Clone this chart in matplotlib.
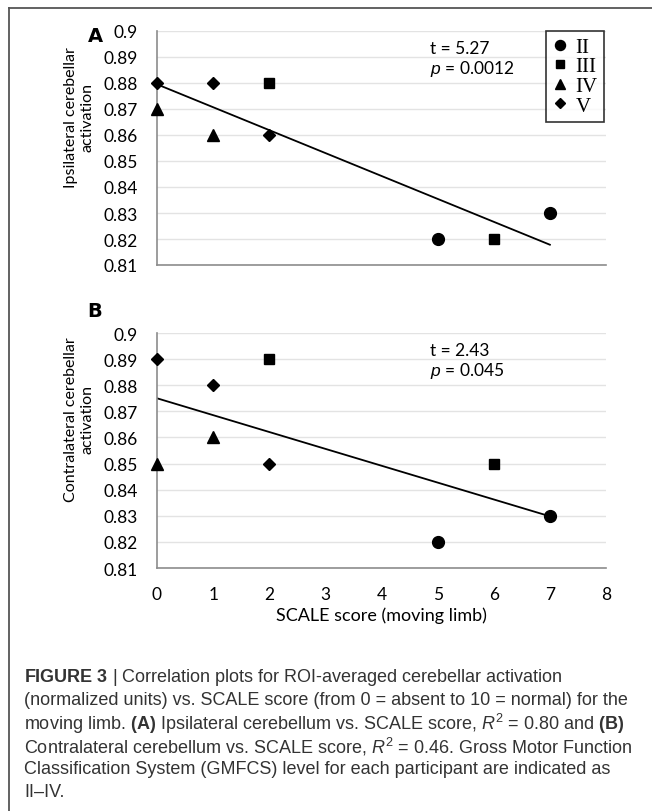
import matplotlib.pyplot as plt
from matplotlib.lines import Line2D

# GMFCS groups and markers
levels = ["II", "III", "IV", "V"]
markers = {"II": "o", "III": "s", "IV": "^", "V": "D"}
msizes = {"II": 8.5, "III": 7.5, "IV": 9, "V": 6.5}

# panel A: ipsilateral activation vs SCALE score
ipsi_x = {"II": [5, 7], "III": [2, 6], "IV": [0, 1], "V": [0, 1, 2]}
ipsi_y = {"II": [0.82, 0.83], "III": [0.88, 0.82], "IV": [0.87, 0.86],
          "V": [0.88, 0.88, 0.86]}
ipsi_fit_x = [0, 7]
ipsi_fit_y = [0.8795, 0.8178]

# panel B: contralateral activation vs SCALE score
contra_x = {"II": [5, 7], "III": [2, 6], "IV": [0, 1], "V": [0, 1, 2]}
contra_y = {"II": [0.82, 0.83], "III": [0.89, 0.85], "IV": [0.85, 0.86],
            "V": [0.89, 0.88, 0.85]}
contra_fit_x = [0, 7]
contra_fit_y = [0.875, 0.8298]

yticks = [0.81, 0.82, 0.83, 0.84, 0.85, 0.86, 0.87, 0.88, 0.89, 0.9]
ytick_labels = ["0.81", "0.82", "0.83", "0.84", "0.85", "0.86", "0.87", "0.88", "0.89", "0.9"]
xticks = [0, 1, 2, 3, 4, 5, 6, 7, 8]

W, H = 652, 812
plt.rcParams["mathtext.fontset"] = "custom"
plt.rcParams["mathtext.rm"] = "Liberation Sans"
plt.rcParams["mathtext.it"] = "Liberation Sans:italic"
plt.rcParams["mathtext.bf"] = "Liberation Sans:bold"

fig = plt.figure(figsize=(W / 100, H / 100), dpi=100)

tick_font = "Lato"
spine_col = "#8c8c8c"
grid_col = "#e3e3e3"


def panel(rect, xs, ys, fx, fy, tstr, pstr, show_x):
    ax = fig.add_axes(rect)
    for lv in levels:
        ax.plot(xs[lv], ys[lv], linestyle="none", marker=markers[lv],
                ms=msizes[lv], color="black", zorder=3, clip_on=False)
    ax.plot(fx, fy, color="black", lw=1.3, zorder=2)
    ax.set_xlim(0, 8)
    ax.set_ylim(0.81, 0.9)
    ax.set_yticks(yticks)
    ax.set_yticklabels(ytick_labels, fontfamily=tick_font, fontsize=12.5)
    ax.set_xticks(xticks)
    if show_x:
        ax.set_xticklabels([str(v) for v in xticks], fontfamily=tick_font, fontsize=12.5)
    else:
        ax.set_xticklabels([])
    ax.tick_params(length=0, pad=14)
    ax.tick_params(axis="x", pad=13)
    ax.grid(axis="y", color=grid_col, lw=1)
    ax.set_axisbelow(True)
    for s in ["top", "right"]:
        ax.spines[s].set_visible(False)
    for s in ["left", "bottom"]:
        ax.spines[s].set_color(spine_col)
        ax.spines[s].set_linewidth(1.2)
    ax.text(0.607, 0.928, tstr, transform=ax.transAxes, fontfamily=tick_font,
            fontsize=12.5, va="center")
    ax.text(0.607, 0.843, pstr, transform=ax.transAxes, fontfamily=tick_font,
            fontsize=12.5, va="center")
    return ax


axA = panel([157 / W, 1 - 266 / H, 449 / W, 234 / H], ipsi_x, ipsi_y,
            ipsi_fit_x, ipsi_fit_y, "t = 5.27", "$\\it{p}$ = 0.0012", False)
axB = panel([157 / W, 1 - 569 / H, 449 / W, 235 / H], contra_x, contra_y,
            contra_fit_x, contra_fit_y, "t = 2.43", "$\\it{p}$ = 0.045", True)
axB.set_xlabel("SCALE score (moving limb)", fontfamily=tick_font, fontsize=13, labelpad=3)

# legend on panel A
handles = [Line2D([], [], linestyle="none", marker=markers[lv], color="black",
                  ms=msizes[lv] * 0.85) for lv in levels]
leg = axA.legend(handles, levels, loc="upper right", bbox_to_anchor=(0.995, 1.0),
                 prop={"family": "Liberation Serif", "size": 15}, frameon=True,
                 fancybox=False, handlelength=0.7, handletextpad=0.4,
                 labelspacing=0.0, borderpad=0.3, borderaxespad=0)
leg.get_frame().set_edgecolor("black")
leg.get_frame().set_linewidth(1.2)

# y axis labels and panel letters
fig.text(79 / W, 1 - 118 / H, "Ipsilateral cerebellar\nactivation", rotation=90,
         ha="center", va="center", multialignment="center",
         fontfamily=tick_font, fontsize=11.5, linespacing=1.25)
fig.text(79 / W, 1 - 420 / H, "Contralateral cerebellar\nactivation", rotation=90,
         ha="center", va="center", multialignment="center",
         fontfamily=tick_font, fontsize=11.5, linespacing=1.25)
fig.text(95 / W, 1 - 37 / H, "A", fontweight="bold", fontsize=14, ha="center", va="center")
fig.text(95 / W, 1 - 312 / H, "B", fontweight="bold", fontsize=14, ha="center", va="center")

# frame around the figure
fig.add_artist(Line2D([9 / W, 1], [1 - 9 / H, 1 - 9 / H], color="#555555", lw=1.3))
fig.add_artist(Line2D([9 / W, 9 / W], [0, 1 - 9 / H], color="#555555", lw=1.3))

# caption
cap = [
    r"$\bf{FIGURE\ 3}$ | Correlation plots for ROI-averaged cerebellar activation",
    "(normalized units) vs. SCALE score (from 0 = absent to 10 = normal) for the",
    r"moving limb. $\bf{(A)}$ Ipsilateral cerebellum vs. SCALE score, $\it{R}^2$ = 0.80 and $\bf{(B)}$",
    r"Contralateral cerebellum vs. SCALE score, $\it{R}^2$ = 0.46. Gross Motor Function",
    "Classification System (GMFCS) level for each participant are indicated as",
    "II\u2013IV.",
]
for i, line in enumerate(cap):
    fig.text(24 / W, 1 - (678 + 23 * i) / H, line, fontfamily="Liberation Sans",
             fontsize=13, color="#333333", va="center")

fig.savefig("out.png", dpi=100)
